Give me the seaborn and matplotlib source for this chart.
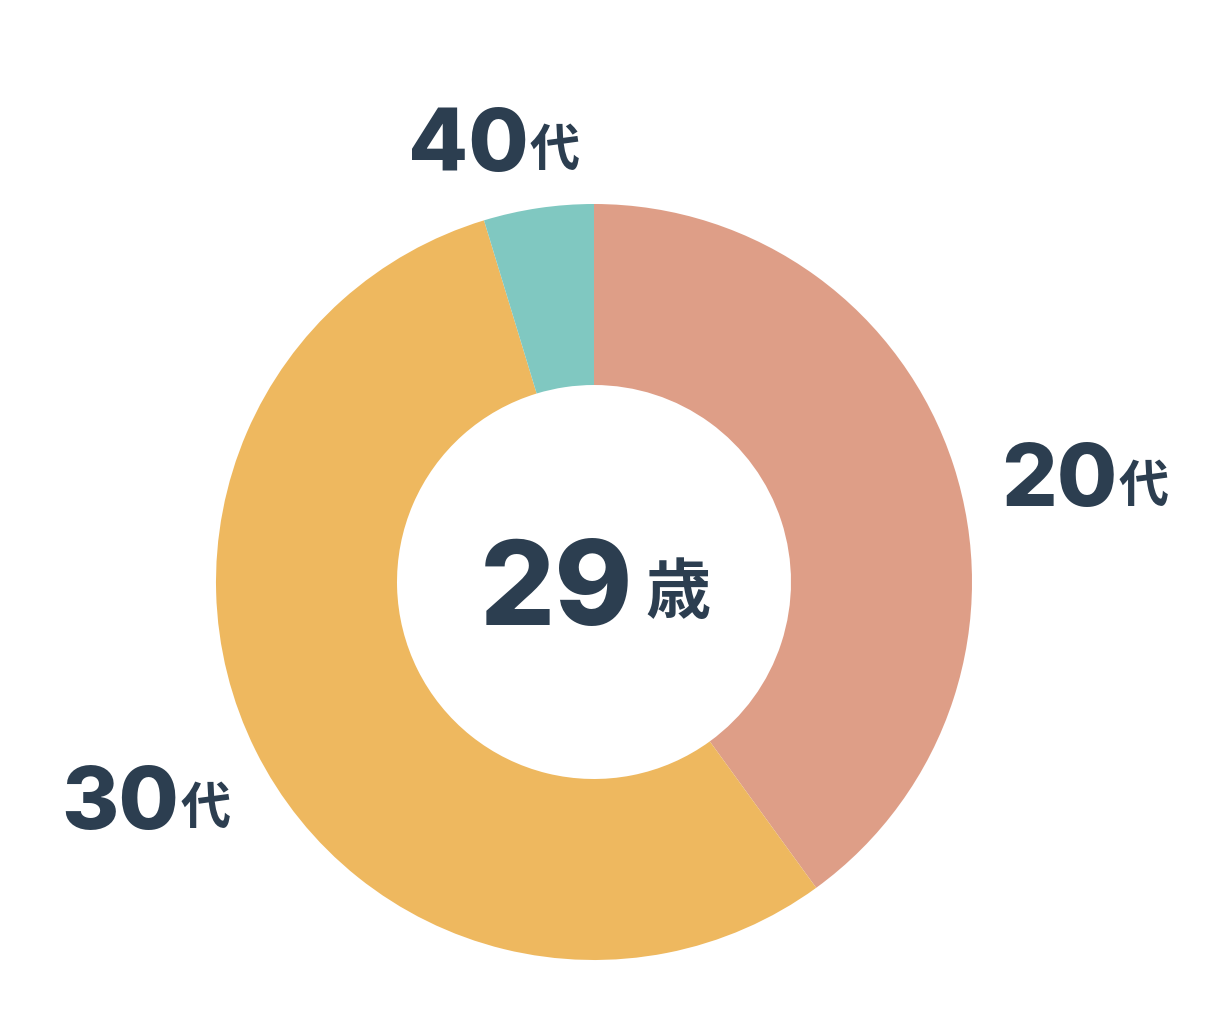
import matplotlib
matplotlib.use("Agg")
import matplotlib.pyplot as plt
import seaborn as sns

categories = ["20代", "30代", "40代"]
numbers = ["20", "30", "40"]
suffix = "代"
values = [40.0, 55.3, 4.7]
colors = ["#DE9E87", "#EEB85F", "#80C8C1"]
center_number = "29"
center_unit = "歳"

sns.set_theme(style="white")
plt.rcParams['font.family'] = ['Inter', 'Noto Sans CJK JP', 'DejaVu Sans']

W, H = 1227, 1023
fig = plt.figure(figsize=(W / 100, H / 100), dpi=100)
ax = fig.add_axes([0, 0, 1, 1])

cx, cy, R = 594, 582, 378
# y axis is inverted, so angle direction flips visually
wedges, _ = ax.pie(values, colors=colors, startangle=-90, counterclock=True,
                   radius=R, center=(cx, cy),
                   wedgeprops=dict(width=R - 197, edgecolor="none"))
ax.set_xlim(0, W)
ax.set_ylim(H, 0)
ax.set_aspect("equal")
ax.axis("off")

txt = "#2C3E50"
num_font = dict(family=["Inter", "DejaVu Sans"], fontweight=800, color=txt)
cjk_font = dict(family=["Noto Sans CJK JP", "DejaVu Sans"], fontweight="bold", color=txt)

label_pos = {"20": (1001, 506, 1119, 502),
             "30": (61, 829, 181, 824),
             "40": (408, 171, 530, 166)}
for num in numbers:
    x, y, sx, sy = label_pos[num]
    ax.text(x, y, num, ha="left", va="baseline", fontsize=63, **num_font)
    ax.text(sx, sy, suffix, ha="left", va="baseline", fontsize=36, **cjk_font)

ax.text(480, 625, center_number, ha="left", va="baseline", fontsize=85, **num_font)
ax.text(645, 613, center_unit, ha="left", va="baseline", fontsize=47, **cjk_font)

fig.savefig("out.png", dpi=100, facecolor="white")
